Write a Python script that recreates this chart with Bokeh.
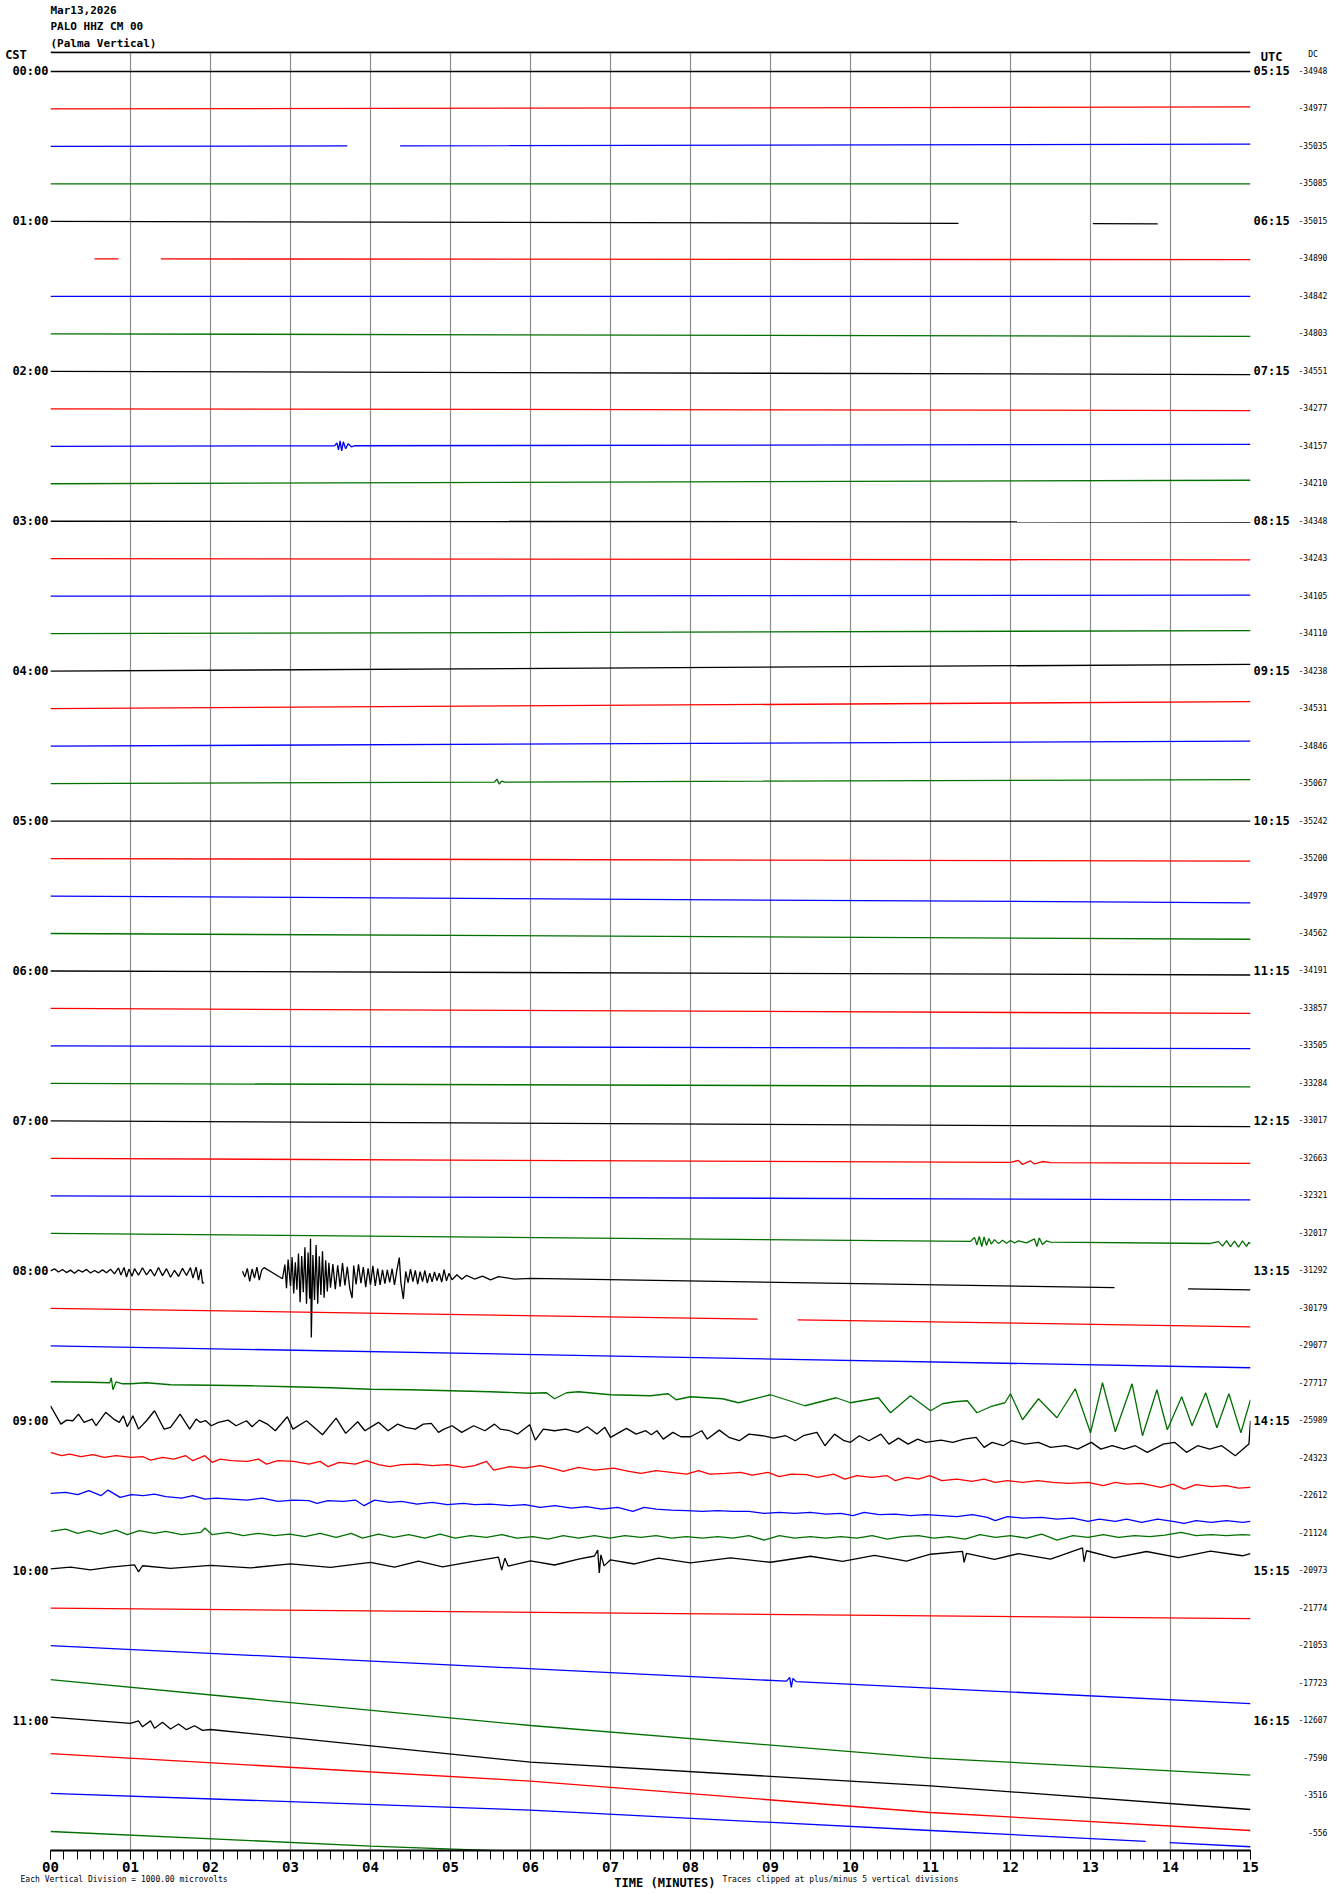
import numpy as np
from bokeh.plotting import figure
from bokeh.models import Range1d, FixedTicker, LinearAxis, Span
from bokeh.embed import file_html
from bokeh.resources import INLINE

# ---------------- data read from the helicorder ----------------
HEADER = ["Mar13,2026", "PALO HHZ CM 00", "(Palma Vertical)"]
NOTE_LEFT = "Each Vertical Division = 1000.00 microvolts"
NOTE_RIGHT = "Traces clipped at plus/minus 5 vertical divisions"
X_TITLE = "TIME (MINUTES)"
N_ROWS = 48
MINUTE_TICKS = list(range(16))
CST_LABELS = ["00:00", "01:00", "02:00", "03:00", "04:00", "05:00",
              "06:00", "07:00", "08:00", "09:00", "10:00", "11:00"]
UTC_LABELS = ["05:15", "06:15", "07:15", "08:15", "09:15", "10:15",
              "11:15", "12:15", "13:15", "14:15", "15:15", "16:15"]
DC_LEVELS = [-34948, -34977, -35035, -35085, -35015, -34890, -34842, -34803,
             -34551, -34277, -34157, -34210, -34348, -34243, -34105, -34110,
             -34238, -34531, -34846, -35067, -35242, -35200, -34979, -34562,
             -34191, -33857, -33505, -33284, -33017, -32663, -32321, -32017,
             -31292, -30179, -29077, -27717, -25989, -24323, -22612, -21124,
             -20973, -21774, -21053, -17723, -12607, -7590, -3516, -556]

# trace level (microvolts, relative to the row line) at minute 0 and minute 15
DRIFT_START_UV = [0] * 40 + [140, 0, 0, 280, 270, 360, 180, 120]
DRIFT_END_UV = [0, 160, 180, 0, -210, -60, 0, -200, -260, -140,
                160, 280, -60, -100, 80, 240, 540, 560, 400, 320,
                0, -200, -540, -460, -320, -400, -220, -280, -460, -400,
                -320, -840, -1520, -1480, -1760, 0, 0, 0, 0, 0,
                1360, -840, -4640, -7360, -7120, -5800, -4100, -3600]

# data gaps: (row, from minute, to minute)
GAPS = [(2, 3.71, 4.37), (4, 11.35, 13.03), (4, 13.84, 15.0),
        (5, 0.0, 0.55), (5, 0.85, 1.38), (32, 1.92, 2.4), (32, 13.3, 14.22),
        (33, 8.84, 9.34), (46, 13.69, 13.99)]

# deviations (microvolts) from the drift line
ROW10_T = [3.55, 3.58, 3.6, 3.62, 3.64, 3.66, 3.69, 3.72, 3.76, 3.8]
ROW10_UV = [0, 240, -320, 400, -400, 320, -240, 160, -80, 0]
ROW19_T = [5.55, 5.58, 5.61, 5.64, 5.68]
ROW19_UV = [0, 240, -160, 80, 0]
ROW29_T = [12.0, 12.1, 12.15, 12.25, 12.3, 12.4, 12.5]
ROW29_UV = [0, 160, -160, 120, -120, 80, 0]
ROW31_T = [11.5, 11.55, 11.58, 11.61, 11.64, 11.67, 11.7, 11.73, 11.76, 11.8,
           11.85, 11.9, 11.95, 12.0, 12.05, 12.1, 12.2, 12.3, 12.33, 12.36,
           12.4, 12.45, 12.5, 14.5, 14.6, 14.65, 14.7, 14.75, 14.8, 14.85,
           14.9, 14.95, 14.98]
ROW31_UV = [0, 320, -280, 400, -400, 360, -320, 240, -200, 160,
            -160, 120, -120, 100, -100, 80, -80, 240, -360, 320,
            -200, 100, 0, 0, 160, -200, 240, -240, 200, -280,
            240, -200, 120]
ROW32_T = [0.0, 0.05, 0.1, 0.15, 0.2, 0.25, 0.3, 0.35, 0.4, 0.45, 0.5, 0.55,
           0.6, 0.65, 0.7, 0.75, 0.8, 0.85, 0.88, 0.92, 0.95, 0.98, 1.02, 1.05,
           1.1, 1.15, 1.2, 1.25, 1.3, 1.35, 1.4, 1.45, 1.5, 1.55, 1.6, 1.65,
           1.7, 1.75, 1.78, 1.82, 1.85, 1.88, 1.9,
           2.4, 2.43, 2.46, 2.49, 2.52, 2.55, 2.58, 2.61, 2.64, 2.67,
           2.9, 2.93, 2.95, 2.97, 3.0, 3.02, 3.04, 3.06, 3.08, 3.1, 3.12, 3.14,
           3.16, 3.18, 3.2, 3.22, 3.24, 3.25, 3.26, 3.28, 3.3, 3.32, 3.34, 3.36,
           3.38, 3.4, 3.42, 3.44, 3.46, 3.48, 3.5, 3.53, 3.56, 3.59, 3.62, 3.65,
           3.68, 3.71, 3.74, 3.77, 3.79, 3.82, 3.85, 3.88, 3.91, 3.94, 3.97, 4.0,
           4.03, 4.06, 4.09, 4.12, 4.15, 4.18, 4.21, 4.24, 4.27, 4.3, 4.33, 4.36,
           4.38, 4.41, 4.44, 4.47, 4.5, 4.53, 4.56, 4.59, 4.62, 4.65, 4.68, 4.71,
           4.74, 4.77, 4.8, 4.83, 4.86, 4.89, 4.92, 4.95, 4.98, 5.02, 5.08, 5.14,
           5.2, 5.3, 5.4, 5.5, 5.6, 5.8, 6.0]
ROW32_UV = [0, 160, -80, 120, -120, 80, -160, 100, -60, 160, -120, 80,
            -100, 140, -80, 200, -160, 320, -240, 360, -400, 240, -320, 280,
            -240, 360, -200, 240, -280, 400, -240, 320, -360, 200, -280, 360,
            -200, 440, -400, 480, -560, 320, -800,
            200, -240, 440, -600, 400, -320, 560, -480, 320, 530,
            -340, 800, -1100, 1200, -900, 1400, -1500, 1000, -1200, 1700, -2200, 1500,
            -1400, 2200, -2300, 1800, -1900, 2900, -5000, 1600, -2000, 2400, -2300, 1500,
            -1600, 1900, -1800, 1200, -1300, 1000, -1000, 900, -1100, 800, -900, 1000,
            -800, 700, -1000, -1800, 800, -700, 900, -600, 700, -900, 600, -700,
            800, -800, 600, -700, 500, -600, 500, -500, 600, -700, 500, 1500,
            -500, -1800, 400, -500, 600, -400, 500, -600, 400, -400, 500, -500,
            300, -400, 400, -300, 300, -400, 600, -300, 300, -200, 200, -160,
            160, -120, 120, -160, 100, -80, 0]
ROW35_T = [0.0, 0.5, 0.74, 0.76, 0.78, 0.82, 0.9, 1.0, 1.2, 1.5, 2.0, 2.5, 3.0,
           3.5, 4.0, 4.5, 5.0, 5.5, 6.0, 6.2, 6.3, 6.45, 6.6, 7.0, 7.5, 7.72,
           7.82, 8.0, 8.4, 8.6, 9.0, 9.43, 9.82, 10.0, 10.35, 10.5, 10.75, 11.0,
           11.15, 11.3, 11.46, 11.58, 11.75, 11.93, 12.0, 12.15, 12.35, 12.58,
           12.81, 13.0, 13.15, 13.31, 13.52, 13.65, 13.83, 13.96, 14.14, 14.27,
           14.44, 14.58, 14.73, 14.88, 15.0]
ROW35_UV = [120, 80, 40, 440, -520, 120, -40, -40, 40, -120, -160, -200, -280,
            -360, -480, -520, -600, -680, -800, -760, -1240, -760, -680, -920, -1000, -840,
            -1320, -1080, -1240, -1560, -920, -1800, -1160, -1560, -1160, -2360, -1000, -2200,
            -1640, -1480, -1400, -2360, -1880, -1560, -840, -2920, -1240, -2760,
            -440, -3960, 40, -3880, -40, -4200, -520, -3720, -1080, -3400,
            -760, -3560, -840, -3960, -1320]
ROW36_T = [0.0, 0.13, 0.2, 0.28, 0.35, 0.42, 0.52, 0.57, 0.69, 0.79, 0.86, 0.91,
           0.96, 1.03, 1.1, 1.2, 1.3, 1.42, 1.5, 1.62, 1.74, 1.82, 1.87, 1.94,
           2.01, 2.1, 2.22, 2.32, 2.45, 2.52, 2.61, 2.71, 2.81, 2.96, 3.03, 3.2,
           3.4, 3.57, 3.69, 3.84, 3.93, 4.1, 4.22, 4.34, 4.44, 4.56, 4.66, 4.76,
           4.85, 4.92, 5.02, 5.14, 5.29, 5.43, 5.55, 5.62, 5.74, 5.84, 5.99, 6.06,
           6.16, 6.3, 6.44, 6.59, 6.71, 6.83, 6.93, 7.0, 7.2, 7.32, 7.44, 7.51,
           7.58, 7.66, 7.78, 7.88, 8.0, 8.14, 8.21, 8.36, 8.48, 8.61, 8.73, 8.9,
           9.04, 9.19, 9.31, 9.41, 9.58, 9.68, 9.8, 9.92, 10.0, 10.11, 10.23, 10.38,
           10.48, 10.6, 10.72, 10.84, 10.94, 11.13, 11.28, 11.42, 11.57, 11.67, 11.77,
           11.91, 12.01, 12.18, 12.35, 12.5, 12.69, 12.84, 13.01, 13.13, 13.27, 13.42,
           13.56, 13.71, 13.91, 14.05, 14.2, 14.34, 14.49, 14.64, 14.81, 14.98]
ROW36_UV = [1200, -270, 50, 0, 530, -130, 130, -400, 670, 130, -130, 400,
            -480, 400, -670, 0, 800, -670, -530, 530, -670, 130, -130, 0,
            -400, -130, 50, -400, 0, -480, 50, -270, -800, 320, -670, 0,
            -1120, 210, -1010, -80, -800, -130, -800, -270, -530, -670, -270, -210,
            -930, -670, -400, -930, -400, -800, -270, -670, -800, -1070, -320, -1550,
            -670, -800, -670, -930, -480, -1070, -530, -1330, -610, -1070, -800, -1120,
            -800, -1470, -930, -1280, -1280, -800, -1470, -750, -1330, -1600, -1070, -1200,
            -1390, -1200, -1600, -1200, -930, -2000, -1070, -1600, -1730, -1200, -1600, -1070,
            -1870, -1390, -1870, -1470, -1730, -1550, -1730, -1470, -1330, -2130, -1730,
            -2000, -1600, -1870, -1730, -2130, -2000, -2270, -1730, -2270, -2000, -2270,
            -2000, -2530, -1870, -1730, -2530, -2000, -2270, -2000, -2800, -1870]
ROW37_T = [0.0, 0.14, 0.24, 0.38, 0.53, 0.67, 0.82, 1.01, 1.16, 1.25, 1.4, 1.54,
           1.69, 1.78, 1.93, 2.02, 2.12, 2.26, 2.46, 2.6, 2.7, 2.84, 3.04, 3.23,
           3.37, 3.47, 3.61, 3.81, 3.95, 4.1, 4.24, 4.39, 4.58, 4.77, 4.96, 5.16,
           5.3, 5.45, 5.54, 5.74, 5.93, 6.12, 6.31, 6.41, 6.6, 6.8, 7.04, 7.23,
           7.38, 7.57, 7.76, 7.95, 8.1, 8.24, 8.44, 8.63, 8.77, 8.97, 9.11, 9.26,
           9.45, 9.59, 9.79, 9.93, 10.08, 10.27, 10.46, 10.56, 10.7, 10.85, 10.99,
           11.14, 11.33, 11.52, 11.67, 11.81, 11.96, 12.15, 12.34, 12.53, 12.73,
           12.97, 13.16, 13.31, 13.45, 13.64, 13.88, 14.03, 14.17, 14.32, 14.51,
           14.7, 14.85, 15.0]
ROW37_UV = [470, 200, 330, 120, 280, 70, 200, 70, 120, -150, 70, -70,
            200, -200, 200, -330, -70, -200, -250, -70, -470, -200, -250, -470,
            -250, -680, -330, -470, -200, -520, -680, -520, -470, -600, -520, -730,
            -600, -250, -950, -680, -790, -600, -870, -1050, -730, -950, -790, -1050,
            -1210, -1000, -1130, -1270, -1000, -1270, -1210, -1130, -1350, -1130, -1480, -1270,
            -1320, -1530, -1270, -1670, -1400, -1530, -1400, -1800, -1530, -1670, -1400,
            -1800, -1670, -1850, -1670, -1930, -1800, -1930, -1800, -1930, -2010,
            -1930, -2200, -1930, -2070, -2010, -2330, -2070, -2470, -2120, -2280,
            -2200, -2390, -2330]
ROW38_T = [0.0, 0.19, 0.34, 0.48, 0.63, 0.72, 0.87, 1.01, 1.16, 1.3, 1.44, 1.64,
           1.78, 1.93, 2.07, 2.26, 2.46, 2.65, 2.84, 3.04, 3.23, 3.33, 3.47, 3.66,
           3.81, 3.92, 4.05, 4.24, 4.39, 4.58, 4.77, 4.96, 5.16, 5.3, 5.5, 5.74,
           5.93, 6.12, 6.31, 6.51, 6.7, 6.89, 7.09, 7.28, 7.42, 7.57, 7.76, 7.95,
           8.15, 8.34, 8.53, 8.73, 8.92, 9.11, 9.3, 9.5, 9.69, 9.88, 10.03, 10.17,
           10.36, 10.56, 10.75, 10.94, 11.14, 11.33, 11.52, 11.71, 11.81, 11.96,
           12.15, 12.39, 12.58, 12.78, 12.97, 13.11, 13.31, 13.45, 13.64, 13.84,
           14.03, 14.17, 14.32, 14.51, 14.7, 14.9, 15.0]
ROW38_UV = [190, 270, 80, 400, 0, 450, -130, 80, 0, 130, -80, -190,
            0, -270, -190, -270, -350, -190, -450, -350, -400, -610, -400, -450,
            -350, -800, -350, -530, -450, -670, -530, -720, -610, -720, -670, -800,
            -720, -930, -800, -990, -880, -1070, -930, -1250, -930, -1070, -1150, -1200,
            -1250, -1200, -1250, -1250, -1410, -1330, -1410, -1330, -1470, -1410, -1600, -1330,
            -1520, -1470, -1600, -1520, -1600, -1680, -1520, -1730, -2000, -1680,
            -1790, -1730, -1870, -1790, -2050, -1870, -2050, -1870, -2130, -1870,
            -2050, -2210, -2000, -2130, -2000, -2130, -2050]
ROW39_T = [0.0, 0.19, 0.34, 0.48, 0.63, 0.82, 0.96, 1.11, 1.3, 1.44, 1.64, 1.88,
           1.93, 2.02, 2.22, 2.41, 2.6, 2.8, 2.99, 3.18, 3.37, 3.57, 3.76, 3.9,
           4.1, 4.29, 4.48, 4.68, 4.87, 5.06, 5.25, 5.45, 5.64, 5.83, 6.03, 6.22,
           6.41, 6.6, 6.8, 6.99, 7.18, 7.38, 7.57, 7.76, 7.95, 8.15, 8.34, 8.53,
           8.73, 8.92, 9.11, 9.3, 9.5, 9.69, 9.88, 10.08, 10.27, 10.46, 10.65, 10.85,
           11.04, 11.23, 11.43, 11.62, 11.81, 12.0, 12.2, 12.39, 12.58, 12.78, 12.97,
           13.16, 13.35, 13.55, 13.74, 13.93, 14.13, 14.32, 14.51, 14.7, 14.9, 15.0]
ROW39_UV = [150, 330, -10, 200, -70, 250, -120, 200, -10, 150, -120, 70,
            410, -120, 70, -200, -10, -200, -70, -280, -10, -330, -10, -390,
            -70, -330, -120, -390, -70, -390, -200, -330, -120, -390, -280, -470,
            -200, -390, -200, -390, -200, -330, -200, -390, -280, -390, -280, -390,
            -200, -550, -200, -390, -280, -390, -280, -390, -200, -470, -280, -200,
            -390, -280, -470, -120, -330, -200, -390, -70, -550, -200, -330,
            -120, -330, -200, -280, -150, 70, -200, -120, -200, -120, -150]
ROW40_T = [0.25, 0.5, 0.75, 1.05, 1.1, 1.15, 1.5, 2.0, 2.5, 3.0, 3.5, 4.0, 4.3,
           4.6, 4.9, 5.3, 5.6, 5.64, 5.68, 5.72, 6.0, 6.3, 6.6, 6.8, 6.84, 6.86,
           6.88, 6.92, 7.0, 7.3, 7.6, 8.0, 8.5, 9.0, 9.5, 9.9, 10.3, 10.7, 11.0,
           11.4, 11.42, 11.45, 11.8, 12.1, 12.5, 12.9, 12.92, 12.95, 13.3, 13.7,
           14.1, 14.5, 14.9]
ROW40_UV = [120, -120, 80, 240, -320, 160, -80, 120, -120, 160, -160, 200, -200,
            240, -240, 200, 480, -560, 400, -240, 160, -200, 240, 480, 960, -880,
            560, -320, 160, -200, 240, -160, 200, -200, 240, -200, 240, -240, 280,
            480, -400, 320, -200, 240, -240, 640, -480, 400, -200, 280,
            -240, 240, -160]
ROW42_T = [9.2, 9.24, 9.26, 9.28, 9.32]
ROW42_UV = [0, 320, -480, 240, 0]
ROW43_T = [6.0, 11.0]
ROW43_UV = [-620, -680]
ROW44_T = [1.0, 1.1, 1.15, 1.25, 1.3, 1.4, 1.5, 1.6, 1.7, 1.8, 1.9, 2.0, 6.0, 11.0]
ROW44_UV = [0, 240, -200, 320, -240, 280, -200, 240, -160, 200, -120, 0, -640, -80]
ROW45_T = [6.0, 11.0]
ROW45_UV = [260, -200]
ROW46_T = [6.0, 11.0]
ROW46_UV = [360, 160]
ROW47_T = [4.0, 7.0]
ROW47_UV = [-170, -140]

EVENTS = {10: (ROW10_T, ROW10_UV), 19: (ROW19_T, ROW19_UV), 29: (ROW29_T, ROW29_UV),
          31: (ROW31_T, ROW31_UV), 32: (ROW32_T, ROW32_UV), 35: (ROW35_T, ROW35_UV),
          36: (ROW36_T, ROW36_UV), 37: (ROW37_T, ROW37_UV), 38: (ROW38_T, ROW38_UV),
          39: (ROW39_T, ROW39_UV), 40: (ROW40_T, ROW40_UV), 42: (ROW42_T, ROW42_UV),
          43: (ROW43_T, ROW43_UV), 44: (ROW44_T, ROW44_UV), 45: (ROW45_T, ROW45_UV),
          46: (ROW46_T, ROW46_UV), 47: (ROW47_T, ROW47_UV)}

# ---------------- drawing ----------------
ROW_UV = 3000.0      # three vertical divisions between neighbouring traces
CLIP_UV = 5000.0     # traces clipped at +/- 5 divisions
COLORS = ["#000000", "#ff0000", "#0000ff", "#007000"]
MONO = "DejaVu Sans Mono"
FS = "\u2007"        # figure space: digit-wide padding for monospaced alignment
TOP_Y = N_ROWS - 1 + 20 / 37.5
BOTTOM_Y = -17.5 / 37.5


def row_trace(i):
    ts, vs = EVENTS.get(i, ([], []))
    t = list(ts)
    d = list(vs)
    if not t or min(t) > 1e-6:
        t.append(0.0); d.append(0.0)
    if max(t) < 15 - 1e-6:
        t.append(15.0); d.append(0.0)
    t = np.array(t, float)
    d = np.clip(np.array(d, float), -CLIP_UV, CLIP_UV)
    o = np.argsort(t, kind="stable")
    t, d = t[o], d[o]
    s, e = DRIFT_START_UV[i], DRIFT_END_UV[i]
    v = d + s + (e - s) * t / 15.0
    gaps = [(a, b) for (r, a, b) in GAPS if r == i]
    if gaps:
        keep = np.ones(len(t), bool)
        bt, bv = [], []
        for a, b in gaps:
            keep &= ~((t >= a) & (t <= b))
            for x in (a, b):
                if 0 < x < 15:
                    bt.append(x); bv.append(np.interp(x, t, v))
        T = np.concatenate([t[keep], bt])
        V = np.concatenate([v[keep], bv])
        o = np.argsort(T, kind="stable")
        T, V = T[o], V[o]
        TT, VV = [T[0]], [V[0]]
        for k in range(1, len(T)):
            mid = 0.5 * (T[k - 1] + T[k])
            if any(a < mid < b for a, b in gaps):
                TT.append(np.nan); VV.append(np.nan)
            TT.append(T[k]); VV.append(V[k])
        t, v = np.array(TT), np.array(VV)
    y = (N_ROWS - 1 - i) + v / ROW_UV
    return t, y


def plain_axis(ax, font_size, bold, standoff):
    ax.axis_line_color = None
    ax.major_tick_line_color = None
    ax.minor_tick_line_color = None
    ax.major_tick_out = 0
    ax.major_tick_in = 0
    ax.minor_tick_out = 0
    ax.minor_tick_in = 0
    ax.major_label_standoff = standoff
    ax.major_label_text_font = MONO
    ax.major_label_text_font_style = "bold" if bold else "normal"
    ax.major_label_text_font_size = font_size
    ax.major_label_text_color = "black"


p = figure(width=1330, height=1894, output_backend="svg", toolbar_location=None,
           x_range=Range1d(0, 15), y_range=Range1d(BOTTOM_Y, TOP_Y),
           title="\n".join(HEADER),
           min_border_left=50, min_border_right=80, min_border_top=50, min_border_bottom=44)
p.outline_line_color = None
p.background_fill_color = "white"
p.border_fill_color = "white"

p.title.align = "left"
p.title.text_font = MONO
p.title.text_font_style = "bold"
p.title.text_font_size = "11px"
p.title.text_line_height = 1.27
p.title.text_color = "black"
p.title.standoff = 3

# minute grid
p.xgrid.ticker = FixedTicker(ticks=MINUTE_TICKS)
p.xgrid.grid_line_color = "#8c8c8c"
p.xgrid.grid_line_width = 1.2
p.ygrid.grid_line_color = None

# top border
p.add_layout(Span(location=TOP_Y - 0.02, dimension="width", line_color="black", line_width=2))

# bottom time axis
xa = p.xaxis[0]
xa.ticker = FixedTicker(ticks=MINUTE_TICKS, minor_ticks=[k / 6 for k in range(91)])
xa.major_label_overrides = {m: f"{m:02d}" for m in MINUTE_TICKS}
xa.axis_line_width = 2
xa.axis_line_color = "black"
xa.major_tick_in = 0
xa.major_tick_out = 9
xa.minor_tick_in = 0
xa.minor_tick_out = 9
xa.major_tick_line_color = "black"
xa.minor_tick_line_color = "black"
xa.major_label_standoff = 2
xa.major_label_text_font = MONO
xa.major_label_text_font_style = "bold"
xa.major_label_text_font_size = "14px"
xa.major_label_text_color = "black"

# notes line under the time axis
note_x = [0.92, 9.875]
na = LinearAxis(ticker=FixedTicker(ticks=note_x), axis_label=FS * 4 + X_TITLE)
na.major_label_overrides = {note_x[0]: NOTE_LEFT, note_x[1]: NOTE_RIGHT}
plain_axis(na, "8px", False, 0)
na.axis_label_standoff = -11
na.axis_label_text_font = MONO
na.axis_label_text_font_style = "bold"
na.axis_label_text_font_size = "12px"
na.axis_label_text_color = "black"
p.add_layout(na, "below")

hour_rows = [N_ROWS - 1 - 4 * k for k in range(len(CST_LABELS))]
cst_y = TOP_Y - 4 / 37.5
utc_y = TOP_Y - 6 / 37.5
dc_y = TOP_Y - 3 / 37.5

ya = p.yaxis[0]
ya.ticker = FixedTicker(ticks=hour_rows + [cst_y])
ov = {r: lab for r, lab in zip(hour_rows, CST_LABELS)}
ov[cst_y] = "CST" + FS * 3
ya.major_label_overrides = ov
plain_axis(ya, "12px", True, 2)

ra = LinearAxis(ticker=FixedTicker(ticks=hour_rows + [utc_y]))
ov = {r: lab for r, lab in zip(hour_rows, UTC_LABELS)}
ov[utc_y] = FS + "UTC"
ra.major_label_overrides = ov
plain_axis(ra, "12px", True, 3)
p.add_layout(ra, "right")

row_y = [N_ROWS - 1 - i for i in range(N_ROWS)]
da = LinearAxis(ticker=FixedTicker(ticks=row_y + [dc_y]))
ov = {r: str(v).rjust(6, FS) for r, v in zip(row_y, DC_LEVELS)}
ov[dc_y] = FS * 2 + "DC"
da.major_label_overrides = ov
plain_axis(da, "8px", False, 6)
p.add_layout(da, "right")

# traces
for i in range(N_ROWS):
    t, y = row_trace(i)
    p.line(t, y, line_color=COLORS[i % 4], line_width=1.3)

open("out.html", "w").write(file_html(p, INLINE))
